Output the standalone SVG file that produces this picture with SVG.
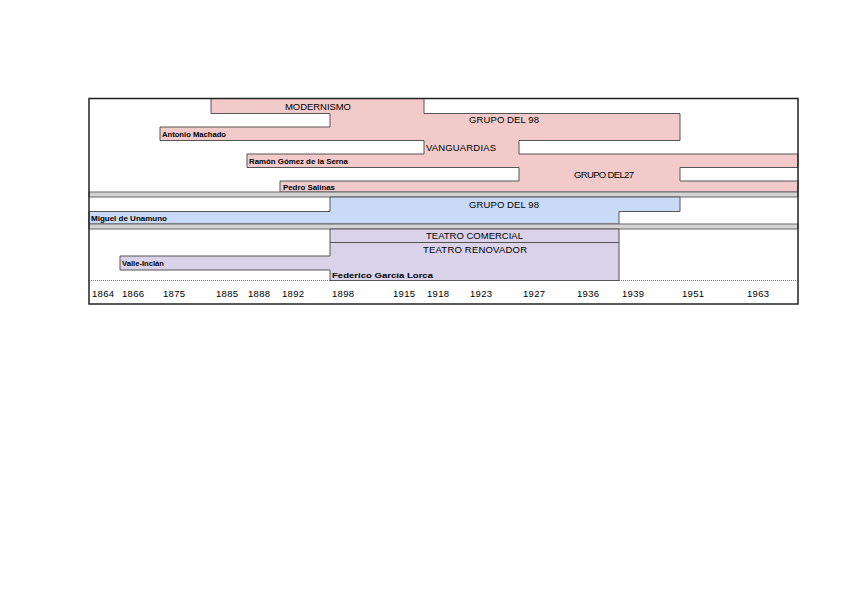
<svg xmlns="http://www.w3.org/2000/svg" width="848" height="599" viewBox="0 0 848 599">
<style>
.bg{fill:#ffffff}
.pink{fill:#F3CACA;stroke:#555;stroke-width:1}
.blue{fill:#C9DAF8;stroke:#555;stroke-width:1}
.purple{fill:#D9D2E9;stroke:#555;stroke-width:1}
.sep{fill:#D4D4D4;stroke:#666;stroke-width:1}
.ln{stroke:#555;stroke-width:1;fill:none}
.lbl{font-family:"Liberation Sans",Arial,sans-serif;font-size:9.5px;fill:#000}
.nm{font-family:"Liberation Sans",Arial,sans-serif;font-size:7.5px;font-weight:bold;fill:#000}
.yr{font-family:"Liberation Sans",Arial,sans-serif;font-size:9.5px;fill:#000}
</style>
<rect width="848" height="599" class="bg"/>
<g id="connectors">
<line x1="89" y1="280.5" x2="798" y2="280.5" stroke="#777" stroke-width="1" stroke-dasharray="1,1"/>
</g>
<g id="pink-section">
<polygon class="pink" points="211,98.5 424,98.5 424,113.5 680,113.5 680,140.5 519,140.5 519,154 798,154 798,167.5 680,167.5 680,181 798,181 798,192 280,192 280,181 519,181 519,167.5 247,167.5 247,154 424,154 424,140.5 160,140.5 160,127 330,127 330,113.5 211,113.5"/>
</g>
<g id="modernismo"><text class="lbl" x="318" y="110" text-anchor="middle" textLength="66" lengthAdjust="spacing">MODERNISMO</text></g>
<g id="grupo98-a"><text class="lbl" x="469" y="123" textLength="70" lengthAdjust="spacing">GRUPO DEL 98</text></g>
<g id="machado"><text class="nm" x="162" y="137" textLength="64" lengthAdjust="spacingAndGlyphs">Antonio Machado</text></g>
<g id="vanguardias"><text class="lbl" x="426" y="150.5" textLength="70" lengthAdjust="spacing">VANGUARDIAS</text></g>
<g id="ramon"><text class="nm" x="249" y="164" textLength="99" lengthAdjust="spacingAndGlyphs">Ramón Gómez de la Serna</text></g>
<g id="grupo27"><text class="lbl" x="574" y="177.5" textLength="60" lengthAdjust="spacing">GRUPO DEL27</text></g>
<g id="salinas"><text class="nm" x="283" y="189.5" textLength="52" lengthAdjust="spacingAndGlyphs">Pedro Salinas</text></g>
<g id="separator-1"><rect class="sep" x="89" y="192" width="709" height="5"/></g>
<g id="blue-section">
<polygon class="blue" points="330,197 680,197 680,211.5 619,211.5 619,224 89,224 89,211.5 330,211.5"/>
</g>
<g id="grupo98-b"><text class="lbl" x="469" y="208" textLength="70" lengthAdjust="spacing">GRUPO DEL 98</text></g>
<g id="unamuno"><text class="nm" x="91" y="221" textLength="76" lengthAdjust="spacingAndGlyphs">Miguel de Unamuno</text></g>
<g id="separator-2"><rect class="sep" x="89" y="224" width="709" height="5"/></g>
<g id="purple-section">
<polygon class="purple" points="330,229 619,229 619,280.5 330,280.5 330,270 120,270 120,256 330,256"/>
<line class="ln" x1="330" y1="242.5" x2="619" y2="242.5"/>
</g>
<g id="teatro-comercial"><text class="lbl" x="426" y="238.5" textLength="97" lengthAdjust="spacing">TEATRO COMERCIAL</text></g>
<g id="teatro-renovador"><text class="lbl" x="423" y="253" textLength="104" lengthAdjust="spacing">TEATRO RENOVADOR</text></g>
<g id="valle"><text class="nm" x="122" y="266" textLength="42" lengthAdjust="spacingAndGlyphs">Valle-Inclán</text></g>
<g id="lorca"><text class="nm" x="332" y="278" textLength="101" lengthAdjust="spacingAndGlyphs">Federico García Lorca</text></g>
<g id="years">
<text class="yr" x="92" y="297" textLength="22">1864</text>
<text class="yr" x="122" y="297" textLength="22">1866</text>
<text class="yr" x="163" y="297" textLength="22">1875</text>
<text class="yr" x="216" y="297" textLength="22">1885</text>
<text class="yr" x="248" y="297" textLength="22">1888</text>
<text class="yr" x="282" y="297" textLength="22">1892</text>
<text class="yr" x="332" y="297" textLength="22">1898</text>
<text class="yr" x="393" y="297" textLength="22">1915</text>
<text class="yr" x="427" y="297" textLength="22">1918</text>
<text class="yr" x="470" y="297" textLength="22">1923</text>
<text class="yr" x="523" y="297" textLength="22">1927</text>
<text class="yr" x="577" y="297" textLength="22">1936</text>
<text class="yr" x="622" y="297" textLength="22">1939</text>
<text class="yr" x="682" y="297" textLength="22">1951</text>
<text class="yr" x="747" y="297" textLength="22">1963</text>
</g>
<g id="frame"><rect x="89" y="98.5" width="709" height="205.5" fill="none" stroke="#222" stroke-width="1.5"/></g>
</svg>
